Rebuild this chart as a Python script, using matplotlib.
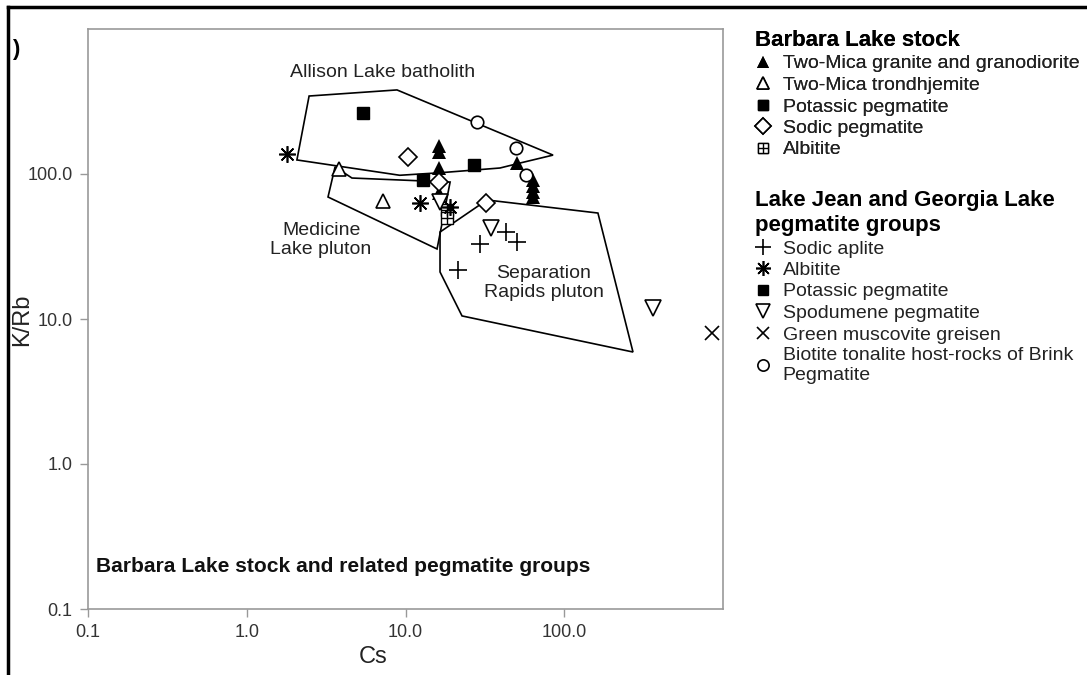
import numpy as np
import matplotlib.pyplot as plt
from matplotlib.lines import Line2D
from matplotlib.patches import Polygon

plt.rcParams['font.family'] = ['Liberation Sans', 'DejaVu Sans']

# field outlines (Cs, K/Rb)
allison_cs = [2.47, 8.84, 85, 52.6, 39.4, 16.5, 9.2, 2.07]
allison_krb = [345, 380, 135, 119, 110, 102, 98, 125]
medicine_cs = [3.6, 3.25, 15.8, 19.1, 4.6]
medicine_krb = [112, 69.4, 30.4, 88, 93.8]
separation_cs = [16.5, 32.6, 163, 271, 22.7, 16.5]
separation_krb = [39.8, 66.2, 53.8, 5.92, 10.5, 21.1]

# Barbara Lake stock
bl_granite_cs = [16.3, 16.3, 16.3, 16.3, 50.4, 63.5, 63.5, 63.5, 63.5]
bl_granite_krb = [142, 156, 110, 74, 119, 91, 82.6, 75.1, 69.4]
bl_trond_cs = [3.81, 7.22]
bl_trond_krb = [108, 65.1]
bl_kpeg_cs = [27.0, 12.9]
bl_kpeg_krb = [115, 91]
bl_napeg_cs = [10.4, 16.3, 32.2]
bl_napeg_krb = [131, 88, 63.1]
bl_albitite_cs = [18.3, 18.3]
bl_albitite_krb = [56.5, 49.8]

# Lake Jean and Georgia Lake pegmatite groups
lj_aplite_cs = [42.9, 50.4, 29.5, 21.4]
lj_aplite_krb = [39.8, 34.0, 32.9, 21.8]
lj_albitite_cs = [1.79, 12.3, 19.1]
lj_albitite_krb = [137, 63, 59.2]
lj_kpeg_cs = [5.4]
lj_kpeg_krb = [264]
lj_spod_cs = [16.5, 34.6, 362]
lj_spod_krb = [64.1, 42.4, 11.9]
lj_greisen_cs = [853]
lj_greisen_krb = [8.0]
lj_tonalite_cs = [28.2, 49.7, 57.4]
lj_tonalite_krb = [228, 151, 98.5]

ticks = [0.1, 1.0, 10.0, 100.0]
tick_labels = ['0.1', '1.0', '10.0', '100.0']

fig = plt.figure(figsize=(10.87, 6.75), dpi=100)
ax = fig.add_axes([88/1087, 66/675, 635/1087, 580/675])
ax.set_xscale('log')
ax.set_yscale('log')
ax.set_xlim(0.1, 1000)
ax.set_ylim(0.1, 1000)

for xs, ys in [(allison_cs, allison_krb), (medicine_cs, medicine_krb),
               (separation_cs, separation_krb)]:
    ax.add_patch(Polygon(np.column_stack([xs, ys]), closed=True, fill=False,
                         edgecolor='black', lw=1.2, zorder=2))

ms = dict(linestyle='none', zorder=3)
h_granite, = ax.plot(bl_granite_cs, bl_granite_krb, marker='^', color='black',
                     mew=0, ms=10, **ms)
h_trond, = ax.plot(bl_trond_cs, bl_trond_krb, marker='^', mfc='white', mec='black',
                   mew=1.2, ms=10, **ms)
h_kpeg, = ax.plot(bl_kpeg_cs, bl_kpeg_krb, marker='s', color='black', ms=8, **ms)
h_napeg, = ax.plot(bl_napeg_cs, bl_napeg_krb, marker='D', mfc='white', mec='black',
                   mew=1.2, ms=9, **ms)
h_alb1, = ax.plot(bl_albitite_cs, bl_albitite_krb, marker='s', mfc='white', mec='black',
                  mew=1.0, ms=8, **ms)
h_alb2, = ax.plot(bl_albitite_cs, bl_albitite_krb, marker='+', color='black',
                  mew=1.0, ms=8, **ms)

h_aplite, = ax.plot(lj_aplite_cs, lj_aplite_krb, marker='+', color='black',
                    mew=1.2, ms=13, **ms)
h_lj_alb, = ax.plot(lj_albitite_cs, lj_albitite_krb, marker=(8, 2, 0), color='black',
                    mew=1.2, ms=12, **ms)
h_lj_kpeg, = ax.plot(lj_kpeg_cs, lj_kpeg_krb, marker='s', color='black', ms=8, **ms)
h_spod, = ax.plot(lj_spod_cs, lj_spod_krb, marker='v', mfc='white', mec='black',
                  mew=1.2, ms=11, **ms)
h_greisen, = ax.plot(lj_greisen_cs, lj_greisen_krb, marker='x', color='black',
                     mew=1.2, ms=10, **ms)
h_tonal, = ax.plot(lj_tonalite_cs, lj_tonalite_krb, marker='o', mfc='white', mec='black',
                   mew=1.2, ms=9, **ms)

ax.text(7.2, 498, 'Allison Lake batholith', fontsize=14, color='#222', ha='center', va='center')
ax.text(2.94, 35.1, 'Medicine\nLake pluton', fontsize=14, color='#222', ha='center', va='center')
ax.text(74.5, 17.7, 'Separation\nRapids pluton', fontsize=14, color='#222', ha='center', va='center')
ax.text(0.013, 0.074, 'Barbara Lake stock and related pegmatite groups', transform=ax.transAxes,
        fontsize=15.1, fontweight='bold', color='#111', ha='left', va='center')

ax.set_xticks(ticks)
ax.set_xticklabels(tick_labels)
ax.set_yticks(ticks)
ax.set_yticklabels(tick_labels)
ax.minorticks_off()
ax.tick_params(direction='out', length=6, width=1, color='#999', labelcolor='#333',
               labelsize=13, pad=5)
for s in ax.spines.values():
    s.set_color('#999')
    s.set_linewidth(1.2)
ax.set_xlabel('Cs', fontsize=17, color='#222', va='center')
ax.set_ylabel('K/Rb', fontsize=17, color='#222', va='center')
ax.xaxis.set_label_coords(0.449, -0.083)
ax.yaxis.set_label_coords(-0.104, 0.498)

leg_kw = dict(loc='upper left', frameon=False, fontsize=14, handlelength=0.8,
              handletextpad=0.62, labelspacing=0.2, borderpad=0, borderaxespad=0,
              markerscale=0.9, alignment='left',
              title_fontproperties={'weight': 'bold', 'size': 16})
leg1 = fig.legend([h_granite, h_trond, h_kpeg, h_napeg, (h_alb1, h_alb2)],
                  ['Two-Mica granite and granodiorite', 'Two-Mica trondhjemite',
                   'Potassic pegmatite', 'Sodic pegmatite', 'Albitite'],
                  title='Barbara Lake stock', bbox_to_anchor=(755/1087, 1 - 30/675), **leg_kw)
leg2 = fig.legend([h_aplite, h_lj_alb, h_lj_kpeg, h_spod, h_greisen, h_tonal],
                  ['Sodic aplite', 'Albitite', 'Potassic pegmatite', 'Spodumene pegmatite',
                   'Green muscovite greisen', 'Biotite tonalite host-rocks of Brink\nPegmatite'],
                  title='Lake Jean and Georgia Lake\npegmatite groups',
                  bbox_to_anchor=(755/1087, 1 - 190/675), **leg_kw)
fig.add_artist(leg1)
for leg in (leg1, leg2):
    for t in leg.get_texts():
        t.set_color('#222')
    leg.get_title().set_linespacing(1.25)

# remains of the outer frame and panel label
fig.add_artist(Line2D([8/1087, 8/1087], [0, 1 - 7/675], color='black', lw=2.5,
                      transform=fig.transFigure))
fig.add_artist(Line2D([8/1087, 1], [1 - 7/675, 1 - 7/675], color='black', lw=2.5,
                      transform=fig.transFigure))
fig.text(12/1087, 1 - 50/675, ')', fontsize=16, fontweight='bold', va='center')

plt.savefig('out.png', dpi=100)
